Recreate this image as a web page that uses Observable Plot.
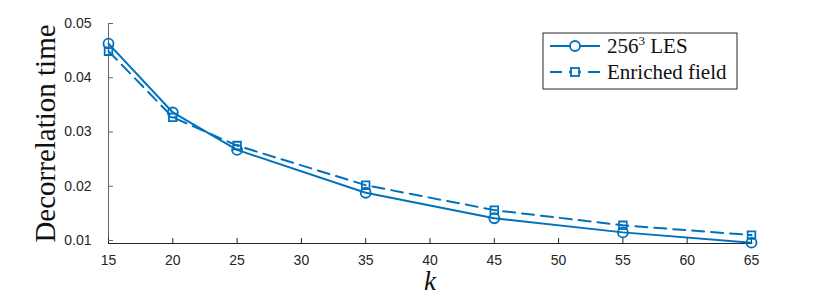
<!DOCTYPE html>
<html><head><meta charset="utf-8">
<script src="https://cdn.jsdelivr.net/npm/d3@7"></script>
<script src="https://cdn.jsdelivr.net/npm/@observablehq/plot@0.6"></script>
<style>body{margin:0;background:#fff}</style>
</head><body><div id="chart"></div>
<script>
const kValues = [15, 20, 25, 35, 45, 55, 65];
const lesValues = [0.0463, 0.0336, 0.0267, 0.0188, 0.0141, 0.0115, 0.0096];
const enrichedValues = [0.0449, 0.0327, 0.0275, 0.0202, 0.0156, 0.0128, 0.0110];
const xTicks = [15, 20, 25, 30, 35, 40, 45, 50, 55, 60, 65];
const yTicks = [0.01, 0.02, 0.03, 0.04, 0.05];
const seriesNames = ["256", "Enriched field"];

const les = kValues.map((k, i) => ({k, v: lesValues[i]}));
const enr = kValues.map((k, i) => ({k, v: enrichedValues[i]}));
const blue = "#0072BD";
const W = 830, H = 307, mL = 108, mR = 79, mT = 23, mB = 64;
const innerW = W - mL - mR, innerH = H - mT - mB;

const chart = Plot.plot({
  width: W, height: H,
  marginLeft: mL, marginRight: mR, marginTop: mT, marginBottom: mB,
  style: {fontFamily: "Liberation Sans", fontSize: "14px", color: "#262626", background: "#fff"},
  x: {domain: [15, 65]},
  y: {domain: [0.00945, 0.05]},
  marks: [
    Plot.frame({anchor: "left", stroke: "#666", strokeWidth: 1}),
    Plot.frame({anchor: "bottom", stroke: "#262626", strokeWidth: 1}),
    Plot.tickX(xTicks, {x: d => d, insetTop: innerH - 5, stroke: "#262626"}),
    Plot.tickY(yTicks, {y: d => d, insetRight: innerW - 5, stroke: "#666"}),
    Plot.axisX(xTicks, {tickSize: 0, tickPadding: 12, label: null, fill: "#262626"}),
    Plot.axisY(yTicks, {tickSize: 0, tickPadding: 17, tickFormat: d3.format(".2f"), label: null, fill: "#262626"}),
    Plot.line(les, {x: "k", y: "v", stroke: blue, strokeWidth: 2}),
    Plot.line(enr, {x: "k", y: "v", stroke: blue, strokeWidth: 2, strokeDasharray: "12,7"}),
    Plot.dot(les, {x: "k", y: "v", symbol: "circle", r: 5, stroke: blue, strokeWidth: 1.8, fill: "none"}),
    Plot.dot(enr, {x: "k", y: "v", symbol: "square", r: 4.3, stroke: blue, strokeWidth: 1.8, fill: "none"}),
    Plot.text(["Decorrelation time"], {frameAnchor: "left", textAnchor: "middle", rotate: -90, dx: -63, fontFamily: "Liberation Serif", fontSize: 29, fill: "#111"}),
    Plot.text(["k"], {frameAnchor: "bottom", dy: 46, fontFamily: "Liberation Serif", fontStyle: "italic", fontSize: 27, fill: "#111"})
  ]
});
document.getElementById("chart").append(chart);

const svg = d3.select(chart);
svg.selectAll("g[aria-label]")
  .filter(function() { return /tick label/.test(this.getAttribute("aria-label")); })
  .style("font-size", "14px").style("font-family", "Liberation Sans")
  .selectAll("text").style("font-size", "14px");

// legend inside the plot area, top-right
const lg = svg.append("g").attr("transform", "translate(543,33)");
lg.append("rect").attr("width", 194).attr("height", 56).attr("fill", "#fff").attr("stroke", "#262626").attr("stroke-width", 1);
const rows = [
  {y: 13, dash: null, sym: "circle"},
  {y: 39, dash: "12,7", sym: "square"}
];
rows.forEach((r, i) => {
  const g = lg.append("g");
  g.append("line").attr("x1", 7).attr("x2", 57).attr("y1", r.y).attr("y2", r.y)
    .attr("stroke", blue).attr("stroke-width", 2).attr("stroke-dasharray", r.dash);
  if (r.sym === "circle") g.append("circle").attr("cx", 32).attr("cy", r.y).attr("r", 5).attr("fill", "#fff").attr("stroke", blue).attr("stroke-width", 1.8);
  else g.append("rect").attr("x", 28).attr("y", r.y - 4).attr("width", 8).attr("height", 8).attr("fill", "#fff").attr("stroke", blue).attr("stroke-width", 1.8);
  const t = g.append("text").attr("x", 64).attr("y", r.y + 7).attr("text-anchor", "start")
    .attr("font-family", "Liberation Serif").attr("font-size", 21).attr("fill", "#111");
  if (i === 0) {
    t.append("tspan").text(seriesNames[0]);
    t.append("tspan").attr("dy", -8).attr("font-size", 13).text("3");
    t.append("tspan").attr("dy", 8).text(" LES");
  } else t.text(seriesNames[1]);
});
</script></body></html>
